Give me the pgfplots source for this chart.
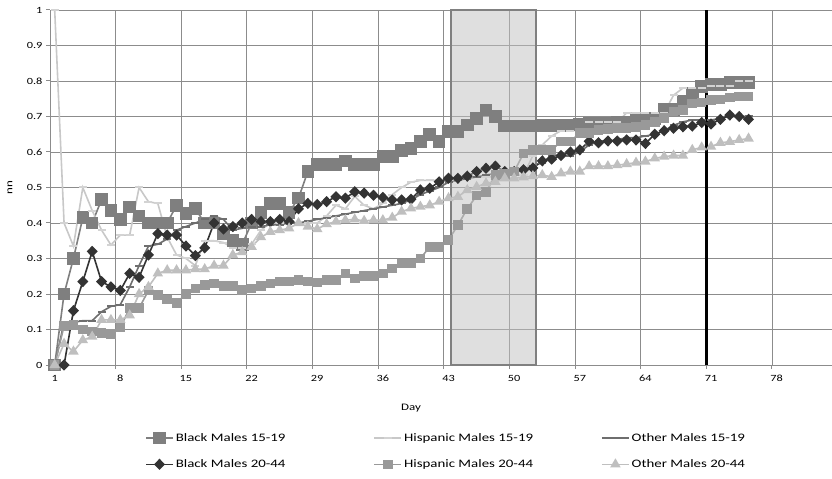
\documentclass[border=0pt]{standalone}
\usepackage{pgfplots}
\pgfplotsset{compat=1.18}
\usepackage{pgfplotstable}
\usepackage{fontspec}
\setmainfont{Carlito}[FakeStretch=1.3, BoldFont={Carlito Bold}]

\definecolor{cA}{HTML}{7F7F7F}
\definecolor{cB}{HTML}{C8C8C8}
\definecolor{cC}{HTML}{6E6E6E}
\definecolor{cD}{HTML}{333333}
\definecolor{cE}{HTML}{999999}
\definecolor{cF}{HTML}{BFBFBF}
\definecolor{gridc}{HTML}{8C8C8C}
\definecolor{boxfill}{HTML}{C0C0C0}
\definecolor{boxedge}{HTML}{808080}

% Black Males 15-19
\pgfplotstableread{
x y
1 0
2 0.20
3 0.30
4 0.415
5 0.40
6 0.466
7 0.436
8 0.41
9 0.445
10 0.42
11 0.40
12 0.40
13 0.40
14 0.45
15 0.427
16 0.44
17 0.40
18 0.40
19 0.37
20 0.35
21 0.34
22 0.40
23 0.43
24 0.455
25 0.455
26 0.43
27 0.47
28 0.545
29 0.565
30 0.565
31 0.565
32 0.575
33 0.565
34 0.565
35 0.565
36 0.587
37 0.587
38 0.605
39 0.61
40 0.63
41 0.65
42 0.63
43 0.657
44 0.657
45 0.676
46 0.695
47 0.718
48 0.70
49 0.673
50 0.673
51 0.673
52 0.673
53 0.675
54 0.675
55 0.675
56 0.676
57 0.677
58 0.68
59 0.68
60 0.682
61 0.683
62 0.685
63 0.688
64 0.69
65 0.695
66 0.72
67 0.72
68 0.742
69 0.765
70 0.784
71 0.79
72 0.79
73 0.795
74 0.795
75 0.795
}\tA

% Hispanic Males 15-19
\pgfplotstableread{
x y
1 1.0
2 0.40
3 0.335
4 0.50
5 0.435
6 0.38
7 0.338
8 0.366
9 0.366
10 0.50
11 0.46
12 0.455
13 0.36
14 0.31
15 0.30
16 0.28
17 0.35
18 0.35
19 0.345
20 0.33
21 0.33
22 0.34
23 0.38
24 0.40
25 0.40
26 0.40
27 0.40
28 0.40
29 0.40
30 0.42
31 0.45
32 0.44
33 0.475
34 0.45
35 0.44
36 0.455
37 0.48
38 0.50
39 0.515
40 0.52
41 0.52
42 0.52
43 0.52
44 0.525
45 0.525
46 0.53
47 0.53
48 0.53
49 0.535
50 0.535
51 0.535
52 0.59
53 0.62
54 0.645
55 0.66
56 0.66
57 0.66
58 0.685
59 0.685
60 0.685
61 0.685
62 0.71
63 0.71
64 0.71
65 0.71
66 0.71
67 0.76
68 0.78
69 0.78
70 0.78
71 0.785
72 0.785
73 0.785
74 0.80
75 0.80
}\tB

% Other Males 15-19
\pgfplotstableread{
x y
1 0
2 0.12
3 0.12
4 0.125
5 0.125
6 0.15
7 0.165
8 0.17
9 0.22
10 0.28
11 0.335
12 0.34
13 0.355
14 0.38
15 0.39
16 0.40
17 0.41
18 0.42
19 0.41
20 0.38
21 0.385
22 0.39
23 0.39
24 0.395
25 0.395
26 0.40
27 0.40
28 0.405
29 0.41
30 0.415
31 0.42
32 0.425
33 0.43
34 0.435
35 0.44
36 0.445
37 0.45
38 0.455
39 0.465
40 0.48
41 0.49
42 0.50
43 0.515
44 0.52
45 0.525
46 0.53
47 0.535
48 0.54
49 0.54
50 0.545
51 0.55
52 0.56
53 0.57
54 0.59
55 0.59
56 0.59
57 0.60
58 0.62
59 0.63
60 0.63
61 0.635
62 0.64
63 0.64
64 0.645
65 0.65
66 0.66
67 0.675
68 0.685
69 0.69
70 0.69
71 0.69
72 0.695
73 0.70
74 0.70
75 0.70
}\tC

% Black Males 20-44
\pgfplotstableread{
x y
2 0
3 0.153
4 0.235
5 0.32
6 0.235
7 0.22
8 0.21
9 0.258
10 0.247
11 0.31
12 0.37
13 0.366
14 0.366
15 0.335
16 0.308
17 0.33
18 0.40
19 0.383
20 0.39
21 0.40
22 0.41
23 0.404
24 0.404
25 0.41
26 0.404
27 0.44
28 0.455
29 0.452
30 0.46
31 0.474
32 0.47
33 0.488
34 0.484
35 0.478
36 0.472
37 0.465
38 0.465
39 0.467
40 0.493
41 0.498
42 0.516
43 0.526
44 0.526
45 0.532
46 0.545
47 0.554
48 0.56
49 0.545
50 0.545
51 0.55
52 0.555
53 0.575
54 0.58
55 0.59
56 0.60
57 0.606
58 0.63
59 0.626
60 0.631
61 0.631
62 0.634
63 0.634
64 0.624
65 0.65
66 0.66
67 0.667
68 0.671
69 0.673
70 0.683
71 0.679
72 0.692
73 0.704
74 0.70
75 0.692
}\tD

% Hispanic Males 20-44
\pgfplotstableread{
x y
1 0
2 0.11
3 0.113
4 0.10
5 0.094
6 0.09
7 0.087
8 0.106
9 0.16
10 0.16
11 0.21
12 0.197
13 0.185
14 0.175
15 0.20
16 0.216
17 0.225
18 0.23
19 0.222
20 0.222
21 0.211
22 0.216
23 0.222
24 0.23
25 0.235
26 0.235
27 0.24
28 0.235
29 0.232
30 0.24
31 0.24
32 0.258
33 0.244
34 0.25
35 0.25
36 0.258
37 0.272
38 0.286
39 0.286
40 0.30
41 0.333
42 0.333
43 0.352
44 0.394
45 0.44
46 0.477
47 0.488
48 0.535
49 0.538
50 0.545
51 0.596
52 0.606
53 0.606
54 0.606
55 0.63
56 0.63
57 0.653
58 0.653
59 0.662
60 0.664
61 0.667
62 0.667
63 0.671
64 0.676
65 0.685
66 0.695
67 0.714
68 0.718
69 0.737
70 0.739
71 0.746
72 0.748
73 0.754
74 0.756
75 0.756
}\tE

% Other Males 20-44
\pgfplotstableread{
x y
1 0
2 0.06
3 0.038
4 0.07
5 0.08
6 0.127
7 0.127
8 0.127
9 0.14
10 0.20
11 0.22
12 0.258
13 0.267
14 0.267
15 0.267
16 0.27
17 0.27
18 0.28
19 0.28
20 0.31
21 0.318
22 0.333
23 0.36
24 0.375
25 0.38
26 0.385
27 0.40
28 0.39
29 0.383
30 0.397
31 0.404
32 0.408
33 0.41
34 0.406
35 0.408
36 0.408
37 0.415
38 0.432
39 0.441
40 0.446
41 0.45
42 0.46
43 0.47
44 0.474
45 0.493
46 0.502
47 0.512
48 0.516
49 0.526
50 0.526
51 0.529
52 0.532
53 0.535
54 0.53
55 0.54
56 0.545
57 0.545
58 0.56
59 0.56
60 0.56
61 0.563
62 0.566
63 0.57
64 0.573
65 0.582
66 0.587
67 0.59
68 0.59
69 0.606
70 0.613
71 0.615
72 0.626
73 0.629
74 0.634
75 0.638
}\tF

\begin{document}
\begin{tikzpicture}
\begin{axis}[
  scale only axis, width=782bp, height=355bp,
  xmin=0.5, xmax=83.9, ymin=0, ymax=1,
  axis x line*=bottom, axis y line*=left,
  axis line style={gridc, line width=1bp, -},
  every outer x axis line/.append style={-},
  every outer y axis line/.append style={-},
  xtick={1,8,15,22,29,36,43,50,57,64,71,78},
  minor xtick={7.5,14.5,21.5,28.5,35.5,42.5,49.5,56.5,63.5,70.5,77.5},
  major x tick style={draw=none},
  minor x tick style={gridc, line width=1bp},
  ytick={0,0.1,0.2,0.3,0.4,0.5,0.6,0.7,0.8,0.9,1},
  y tick style={gridc, line width=1bp},
  tick align=outside,
  major tick length=4bp, minor tick length=4bp,
  ymajorgrids, xminorgrids,
  major grid style={gridc, line width=0.9bp},
  minor grid style={gridc, line width=0.9bp},
  /pgf/number format/assume math mode=true,
  tick label style={font=\fontsize{9.5}{10}\selectfont, black},
  xticklabel style={yshift=-3bp},
  xlabel={Day},
  xlabel style={font=\bfseries\fontsize{9.5}{10}\selectfont},
  every axis x label/.style={at={(axis description cs:0,0)}, xshift=361bp, yshift=-43bp, anchor=center},
  ylabel={nn},
  ylabel style={font=\bfseries\fontsize{8}{9}\selectfont},
  every axis y label/.style={at={(axis description cs:0,0.5)}, xshift=-40bp, rotate=90, anchor=center},
  legend columns=3,
  legend cell align=left,
  legend style={draw=none, fill=none, at={(axis description cs:0,0)}, anchor=north west,
    xshift=95bp, yshift=-66bp, inner sep=0pt,
    font=\fontsize{11.5}{13}\selectfont, row sep=13bp,
    /tikz/column 2/.style={column sep=86bp},
    /tikz/column 4/.style={column sep=66bp}},
  legend image code/.code={\draw[mark repeat=2,mark phase=2] plot coordinates {(0bp,0bp) (13.5bp,0bp) (27bp,0bp)};},
]
\addplot[cA, line width=1.6bp, mark=square*, mark size=5.5bp, mark options={solid, fill=cA}] table {\tA};
\addlegendentry{Black Males 15-19}
\addplot[cB, line width=1.6bp, mark=-, mark size=4bp, mark options={line width=2bp, color=cB!80!white}] table {\tB};
\addlegendentry{Hispanic Males 15-19}
\addplot[cC, line width=1.6bp, mark=-, mark size=4bp, mark options={line width=2bp}] table {\tC};
\addlegendentry{Other Males 15-19}
\addplot[cD, line width=1.6bp, mark=diamond*, mark size=4.5bp, mark options={xscale=1.3, fill=cD}] table {\tD};
\addlegendentry{Black Males 20-44}
\addplot[cE, line width=1.6bp, mark=square*, mark size=4bp, mark options={fill=cE}] table {\tE};
\addlegendentry{Hispanic Males 20-44}
\addplot[cF, line width=1.6bp, mark=triangle*, mark size=4.5bp, mark options={fill=cF}] table {\tF};
\addlegendentry{Other Males 20-44}
\fill[boxfill, fill opacity=0.5] (axis cs:43.27,0) rectangle (axis cs:52.34,1);
\draw[boxedge, line width=2.5bp] (axis cs:43.27,0) rectangle (axis cs:52.34,1);
\draw[black, line width=3bp] (axis cs:70.5,0) -- (axis cs:70.5,1);
\end{axis}
\pgfresetboundingbox
\path[use as bounding box] (current axis.south west) ++(-50bp,-114bp) rectangle ++(832bp,479bp);
\end{tikzpicture}
\end{document}
